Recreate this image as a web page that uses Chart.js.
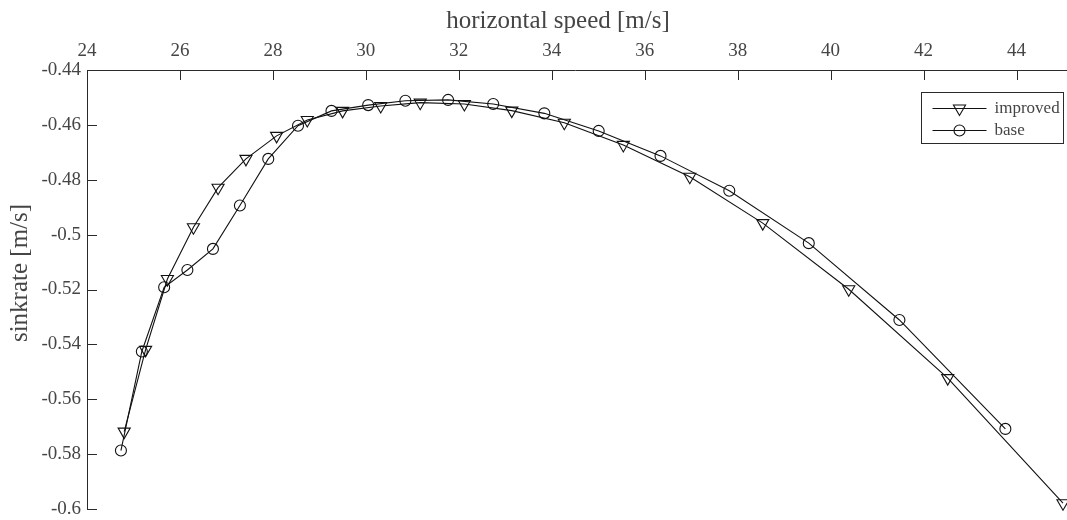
<!DOCTYPE html>
<html lang="en">
<head>
    <meta charset="UTF-8">
    <title>Sink rate vs horizontal speed</title>
    <script src="https://cdn.jsdelivr.net/npm/chart.js"></script>
    <style>
        html, body {
            margin: 0;
            padding: 0;
            background: #fff;
        }
        #polar {
            display: block;
        }
    </style>
</head>
<body>
    <canvas id="polar" width="1067" height="520"></canvas>

    <script>
        // Polar curves: horizontal speed [m/s] vs sink rate [m/s]
        const improvedSpeed = [24.80, 25.26, 25.73, 26.29, 26.82, 27.42, 28.08, 28.74, 29.50, 30.32,
                               31.17, 32.12, 33.14, 34.27, 35.54, 36.97, 38.54, 40.39, 42.52, 45.00];
        const improvedSink = [-0.5718, -0.5420, -0.5162, -0.4973, -0.4829, -0.4724, -0.4640, -0.4582, -0.4549, -0.4531,
                              -0.4519, -0.4524, -0.4548, -0.4592, -0.4673, -0.4789, -0.4958, -0.5199, -0.5523, -0.5979];

        const baseSpeed = [24.73, 25.18, 25.66, 26.16, 26.71, 27.29, 27.90, 28.54, 29.26, 30.05,
                           30.85, 31.77, 32.74, 33.84, 35.01, 36.34, 37.82, 39.53, 41.48, 43.76];
        const baseSink = [-0.5787, -0.5426, -0.5192, -0.5129, -0.5052, -0.4894, -0.4724, -0.4603, -0.4549, -0.4528,
                          -0.4512, -0.4509, -0.4524, -0.4558, -0.4622, -0.4713, -0.4840, -0.5031, -0.5311, -0.5708];

        const xTicks = [24, 26, 28, 30, 32, 34, 36, 38, 40, 42, 44];
        const yTicks = [-0.6, -0.58, -0.56, -0.54, -0.52, -0.5, -0.48, -0.46, -0.44];

        const serif = "'Liberation Serif', 'DejaVu Serif', serif";
        const textColor = '#454545';
        const axisColor = '#2a2a2a';

        const toPoints = (xs, ys) => xs.map((x, i) => ({ x: x, y: ys[i] }));

        // inward tick marks, axis titles and the boxed legend
        const decorations = {
            id: 'decorations',
            afterDraw(chart) {
                const ctx = chart.ctx;
                const area = chart.chartArea;
                const xs = chart.scales.x;
                const ys = chart.scales.y;
                const tickLen = 10;

                ctx.save();
                ctx.strokeStyle = axisColor;
                ctx.lineWidth = 1;
                ctx.beginPath();
                // top axis runs on to the canvas edge
                ctx.moveTo(area.right, area.top + 0.5);
                ctx.lineTo(chart.width, area.top + 0.5);
                xTicks.forEach(v => {
                    const px = Math.round(xs.getPixelForValue(v)) + 0.5;
                    ctx.moveTo(px, area.top);
                    ctx.lineTo(px, area.top + tickLen);
                });
                yTicks.forEach(v => {
                    const py = Math.round(ys.getPixelForValue(v)) + 0.5;
                    ctx.moveTo(area.left, py);
                    ctx.lineTo(area.left + tickLen, py);
                });
                ctx.stroke();

                // axis titles
                ctx.fillStyle = textColor;
                ctx.font = '25px ' + serif;
                ctx.textAlign = 'center';
                ctx.textBaseline = 'alphabetic';
                ctx.fillText('horizontal speed [m/s]', 558, 28);

                ctx.save();
                ctx.translate(27, 273);
                ctx.rotate(-Math.PI / 2);
                ctx.fillText('sinkrate [m/s]', 0, 0);
                ctx.restore();

                // legend
                const boxW = 142, boxH = 51;
                const bx = Math.round(area.right - boxW) + 0.5;
                const by = Math.round(area.top + 22) + 0.5;
                ctx.fillStyle = '#fff';
                ctx.fillRect(bx, by, boxW, boxH);
                ctx.strokeStyle = axisColor;
                ctx.strokeRect(bx, by, boxW, boxH);

                ctx.font = '17px ' + serif;
                ctx.textAlign = 'left';
                ctx.textBaseline = 'middle';
                chart.data.datasets.forEach((ds, i) => {
                    const rowY = by + 16 + i * 22;
                    ctx.strokeStyle = ds.borderColor;
                    ctx.lineWidth = ds.borderWidth;
                    ctx.beginPath();
                    ctx.moveTo(bx + 11, rowY);
                    ctx.lineTo(bx + 65, rowY);
                    ctx.stroke();
                    ctx.fillStyle = 'rgba(0,0,0,0)';
                    ctx.strokeStyle = ds.pointBorderColor;
                    ctx.lineWidth = ds.pointBorderWidth;
                    Chart.helpers.drawPoint(ctx, {
                        pointStyle: ds.pointStyle,
                        rotation: ds.pointRotation || 0,
                        radius: ds.pointRadius,
                        borderWidth: ds.pointBorderWidth
                    }, bx + 38, rowY);
                    ctx.fillStyle = textColor;
                    ctx.fillText(ds.label, bx + 73, rowY);
                });
                ctx.restore();
            }
        };

        new Chart(document.getElementById('polar'), {
            type: 'line',
            data: {
                datasets: [
                    {
                        label: 'improved',
                        data: toPoints(improvedSpeed, improvedSink),
                        borderColor: '#111',
                        borderWidth: 1.1,
                        pointStyle: 'triangle',
                        pointRotation: 180,
                        pointRadius: 7,
                        pointBorderWidth: 1.1,
                        pointBorderColor: '#111',
                        pointBackgroundColor: 'rgba(0,0,0,0)',
                        tension: 0,
                        clip: false
                    },
                    {
                        label: 'base',
                        data: toPoints(baseSpeed, baseSink),
                        borderColor: '#111',
                        borderWidth: 1.1,
                        pointStyle: 'circle',
                        pointRadius: 5.5,
                        pointBorderWidth: 1.1,
                        pointBorderColor: '#111',
                        pointBackgroundColor: 'rgba(0,0,0,0)',
                        tension: 0,
                        clip: false
                    }
                ]
            },
            options: {
                responsive: false,
                animation: false,
                devicePixelRatio: 1,
                layout: {
                    autoPadding: false,
                    padding: { left: 0, top: 0, right: 4, bottom: 11 }
                },
                plugins: {
                    legend: { display: false },
                    tooltip: { enabled: false }
                },
                scales: {
                    x: {
                        type: 'linear',
                        position: 'top',
                        min: 24,
                        max: 45,
                        grid: { display: false },
                        border: { display: true, color: axisColor, width: 1 },
                        ticks: {
                            color: textColor,
                            font: { family: serif, size: 19 },
                            padding: 0,
                            maxRotation: 0
                        },
                        afterBuildTicks: scale => {
                            scale.ticks = xTicks.map(v => ({ value: v }));
                        },
                        afterFit: scale => { scale.height = 70; }
                    },
                    y: {
                        type: 'linear',
                        min: -0.6,
                        max: -0.44,
                        grid: { display: false },
                        border: { display: true, color: axisColor, width: 1 },
                        ticks: {
                            color: textColor,
                            font: { family: serif, size: 19 },
                            padding: -2,
                            callback: v => String(Number(v.toFixed(2)))
                        },
                        afterBuildTicks: scale => {
                            scale.ticks = yTicks.map(v => ({ value: v }));
                        },
                        afterFit: scale => { scale.width = 87; }
                    }
                }
            },
            plugins: [decorations]
        });
    </script>
</body>
</html>
